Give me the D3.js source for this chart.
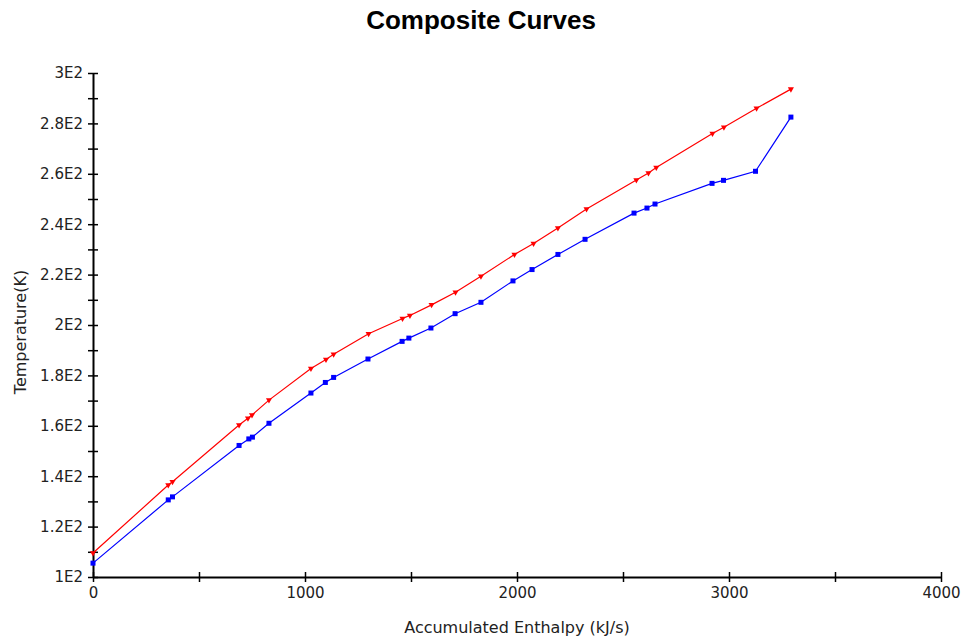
<!DOCTYPE html>
<html>
<head>
<meta charset="utf-8">
<script src="https://d3js.org/d3.v7.min.js"></script>
<style>
  body { margin: 0; background: #fff; }
  svg { display: block; }
</style>
</head>
<body>
<svg width="962" height="643"></svg>
<script>
// Hot composite curve (red)
const hotH = [0, 355, 375, 689, 731, 750, 830, 1028, 1099, 1135, 1300, 1460, 1495, 1597, 1710, 1830, 1988, 2078, 2193, 2328, 2563, 2620, 2657, 2922, 2976, 3130, 3292];
const hotT = [109.5, 136.5, 137.8, 160.3, 163, 164.3, 170.2, 182.7, 186.3, 188.4, 196.5, 202.6, 203.8, 208, 213, 219.3, 228, 232.3, 238.5, 246, 257.5, 260.3, 262.5, 276, 278.5, 286, 293.6];

// Cold composite curve (blue)
const coldH = [0, 355, 375, 689, 735, 752, 830, 1028, 1096, 1135, 1297, 1458, 1490, 1594, 1708, 1830, 1981, 2071, 2193, 2321, 2552, 2613, 2651, 2920, 2974, 3125, 3292];
const coldT = [105.5, 130.6, 131.8, 152.2, 154.8, 155.5, 161, 173, 177.2, 179.2, 186.5, 193.5, 194.8, 198.8, 204.5, 209, 217.5, 222, 228, 234, 244.4, 246.4, 248, 256.2, 257.4, 261, 282.5];

const xTicks = [0, 500, 1000, 1500, 2000, 2500, 3000, 3500, 4000];
const xLabels = ["0", "", "1000", "", "2000", "", "3000", "", "4000"];
const yTicks = d3.range(100, 301, 10);
const yLabels = ["1E2", "", "1.2E2", "", "1.4E2", "", "1.6E2", "", "1.8E2", "", "2E2", "", "2.2E2", "", "2.4E2", "", "2.6E2", "", "2.8E2", "", "3E2"];

const svg = d3.select("svg");
const margin = { top: 73, right: 21, bottom: 66, left: 93 };
const width = +svg.attr("width");
const height = +svg.attr("height");

const x = d3.scaleLinear().domain([0, 4000]).range([margin.left, width - margin.right]);
const y = d3.scaleLinear().domain([100, 300]).range([height - margin.bottom, margin.top]);

const font = "'DejaVu Sans', sans-serif";

// title
svg.append("text")
  .attr("x", 481).attr("y", 29)
  .attr("text-anchor", "middle")
  .style("font-family", "'Liberation Sans', Arial, sans-serif")
  .style("font-weight", "bold")
  .style("font-size", "26px")
  .text("Composite Curves");

// x axis
const xAxis = svg.append("g")
  .attr("transform", `translate(0,${y(100)})`)
  .call(d3.axisBottom(x).tickValues(xTicks).tickSizeInner(4).tickSizeOuter(0)
    .tickFormat((d, i) => xLabels[i]));
xAxis.select(".domain").attr("stroke", "#000").attr("stroke-width", 2);
xAxis.selectAll(".tick line").attr("y1", -5).attr("y2", 5).attr("stroke-width", 1.5);
xAxis.selectAll(".tick text").attr("y", 10)
  .style("font-family", font).style("font-size", "15px").attr("fill", "#222");

// y axis
const yAxis = svg.append("g")
  .attr("transform", `translate(${x(0)},0)`)
  .call(d3.axisLeft(y).tickValues(yTicks).tickSizeInner(4).tickSizeOuter(0)
    .tickFormat((d, i) => yLabels[i]));
yAxis.select(".domain").attr("stroke", "#000").attr("stroke-width", 2);
yAxis.selectAll(".tick line").attr("x1", -5).attr("x2", 5).attr("stroke-width", 1.5);
yAxis.selectAll(".tick text").attr("x", -10)
  .style("font-family", font).style("font-size", "15px").attr("fill", "#222");

// axis titles
svg.append("text")
  .attr("x", 517).attr("y", 633)
  .attr("text-anchor", "middle")
  .style("font-family", font).style("font-size", "16px").attr("fill", "#222")
  .text("Accumulated Enthalpy (kJ/s)");

svg.append("text")
  .attr("transform", "translate(26,332) rotate(-90)")
  .attr("text-anchor", "middle")
  .style("font-family", font).style("font-size", "16px").attr("fill", "#222")
  .text("Temperature(K)");

// curves
const line = d3.line().x(d => x(d[0])).y(d => y(d[1]));
const hot = hotH.map((h, i) => [h, hotT[i]]);
const cold = coldH.map((h, i) => [h, coldT[i]]);

svg.append("path").datum(hot)
  .attr("fill", "none").attr("stroke", "#ff0000").attr("stroke-width", 1.2)
  .attr("d", line);
svg.append("path").datum(cold)
  .attr("fill", "none").attr("stroke", "#0000ff").attr("stroke-width", 1.2)
  .attr("d", line);

// markers
svg.selectAll(".hot-pt").data(hot).enter().append("path")
  .attr("class", "hot-pt")
  .attr("transform", d => `translate(${x(d[0])},${y(d[1])}) rotate(180)`)
  .attr("d", d3.symbol(d3.symbolTriangle, 16))
  .attr("fill", "#ff0000");
svg.selectAll(".cold-pt").data(cold).enter().append("rect")
  .attr("class", "cold-pt")
  .attr("x", d => x(d[0]) - 2.5).attr("y", d => y(d[1]) - 2.5)
  .attr("width", 5).attr("height", 5)
  .attr("fill", "#0000ff");
</script>
</body>
</html>
